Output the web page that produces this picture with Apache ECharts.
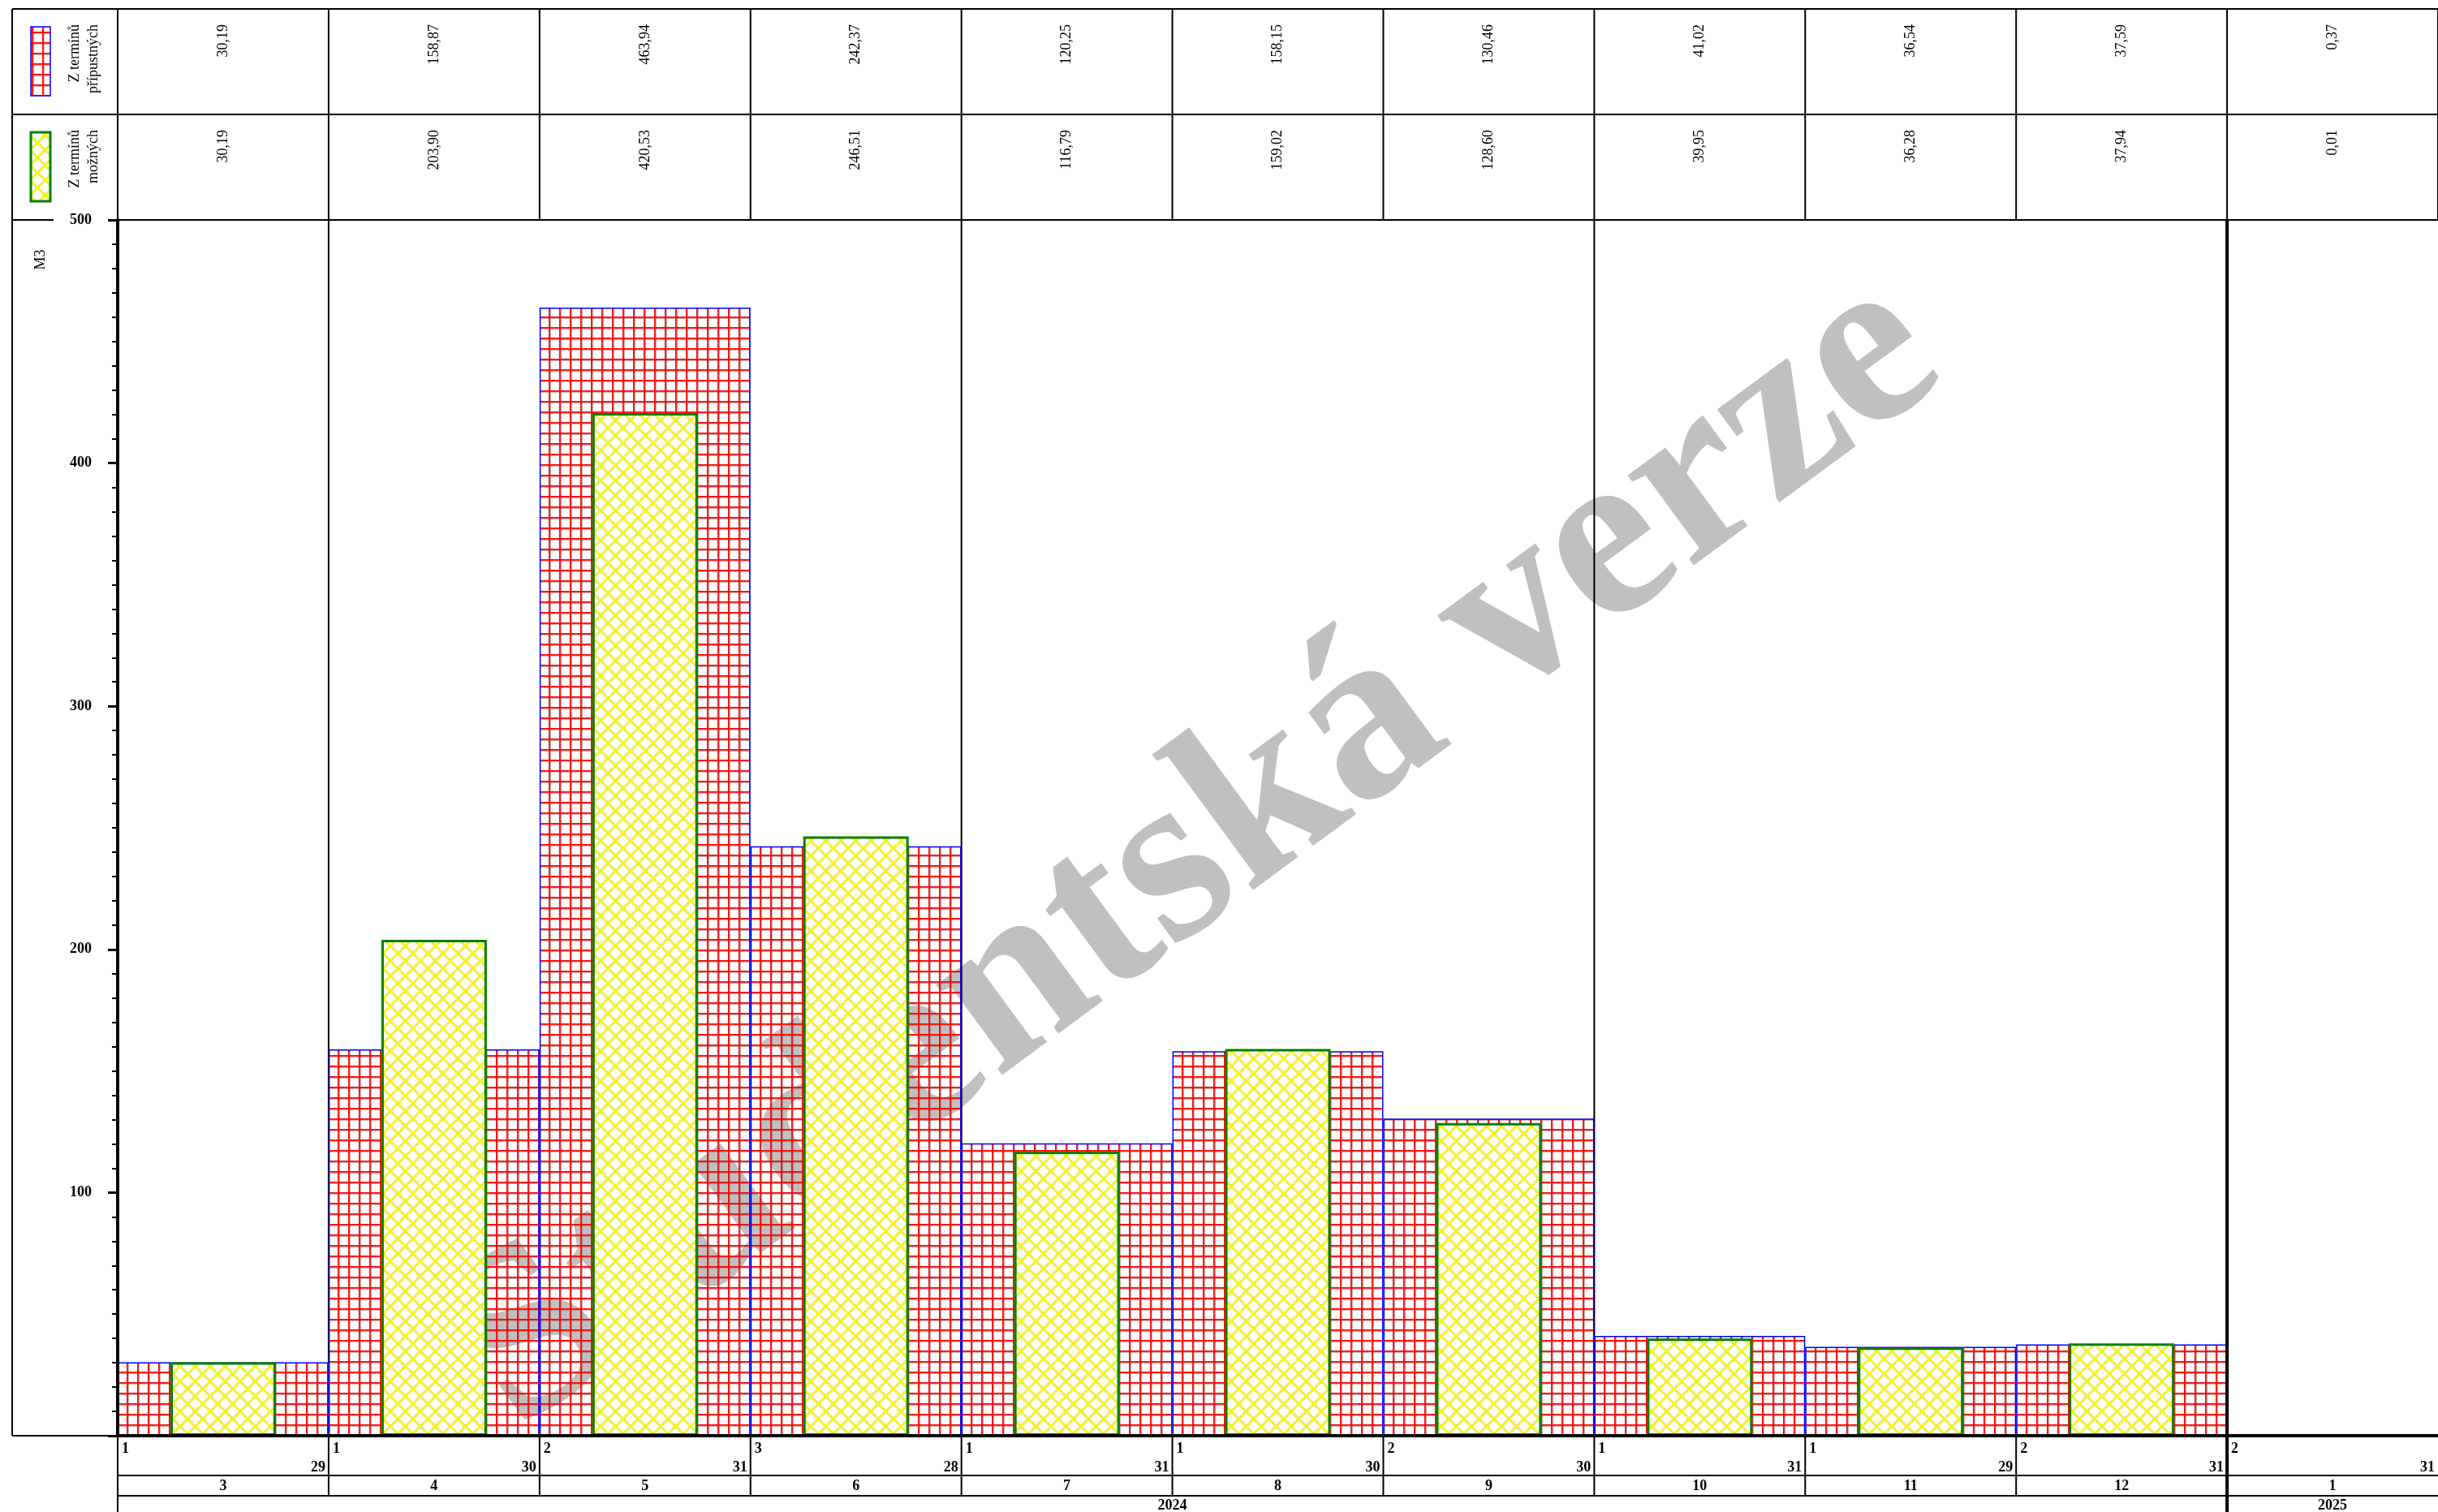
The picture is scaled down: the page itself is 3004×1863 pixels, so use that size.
<!DOCTYPE html>
<html><head><meta charset="utf-8">
<script src="https://cdn.jsdelivr.net/npm/echarts@6/dist/echarts.min.js"></script>
<style>html,body{margin:0;padding:0;background:#fff;}#c{width:3004px;height:1863px;}</style>
</head><body><div id="c"></div>
<script>
// ---- data ----
const months = ['3','4','5','6','7','8','9','10','11','12','1'];
const startDays = ['1','1','2','3','1','1','2','1','1','2','2'];
const endDays = ['29','30','31','28','31','30','30','31','29','31','31'];
const yearLabels = ['2024','2025'];
const yearOfMonth = [0,0,0,0,0,0,0,0,0,0,1];
const pripustnych = [30.19,158.87,463.94,242.37,120.25,158.15,130.46,41.02,36.54,37.59,0.37];
const moznych = [30.19,203.90,420.53,246.51,116.79,159.02,128.60,39.95,36.28,37.94,0.01];
const seriesNames = ['Z termínů přípustných','Z termínů možných'];
const legendLines = [['Z termínů','přípustných'],['Z termínů','možných']];
const yMin = 0, yMax = 500, yInterval = 100;
const yUnit = 'M3';
const watermark = 'Studentská verze';

// ---- patterns ----
function redGrid(){
  const c = document.createElement('canvas'); c.width = 13; c.height = 13;
  const g = c.getContext('2d');
  g.fillStyle = 'rgba(140,90,90,0.45)'; g.fillRect(2,0,1,13); g.fillRect(0,2,13,1);
  g.fillStyle = 'rgba(255,0,0,0.8)'; g.fillRect(1,0,1,13); g.fillRect(0,1,13,1);
  g.fillStyle = '#ff0000'; g.fillRect(0,0,1,13); g.fillRect(0,0,13,1);
  return c;
}
function yellowDiamond(){
  const s = 18.5, n = 37;
  const c = document.createElement('canvas'); c.width = n; c.height = n;
  const g = c.getContext('2d');
  g.fillStyle = '#ffffff'; g.fillRect(0,0,n,n);
  function lines(w, col){
    g.strokeStyle = col; g.lineWidth = w;
    for (let ox=-n; ox<=n; ox+=s){
      g.beginPath(); g.moveTo(ox-1, -1); g.lineTo(ox+n+1, n+1); g.stroke();
      g.beginPath(); g.moveTo(ox+n+1, -1); g.lineTo(ox-1, n+1); g.stroke();
    }
  }
  lines(2.8,'rgba(190,190,0,0.6)');
  lines(1.6,'#ffff00');
  return c;
}
const redPat = {image: redGrid(), repeat: 'repeat'};
const yelPat = {image: yellowDiamond(), repeat: 'repeat'};
const FONT = '"Liberation Serif", "Times New Roman", serif';

const chart = echarts.init(document.getElementById('c'), null, {renderer:'canvas'});
chart.setOption({
  animation: false,
  backgroundColor: '#fff',
  grid: {left: 145, top: 271, right: -4, bottom: 94, containLabel: false},
  xAxis: [
    {type:'category', data: months, boundaryGap: true, z: 5,
     axisLine:{show:true, lineStyle:{color:'#000', width:4}},
     axisTick:{show:false}, axisLabel:{show:false}, splitLine:{show:false}},
    {type:'category', data: months, show:false, boundaryGap: true}
  ],
  yAxis: {type:'value', min: yMin, max: yMax, interval: yInterval, z: 5,
    axisLine:{show:true, lineStyle:{color:'#000', width:4}},
    axisTick:{show:true, length:12, lineStyle:{color:'#000', width:3}},
    minorTick:{show:true, splitNumber:10, length:7, lineStyle:{color:'#000', width:2}},
    axisLabel:{margin:32, color:'#000', fontFamily: FONT, fontWeight:'bold', fontSize:18,
      formatter: v => v === 0 ? '' : String(v)},
    splitLine:{show:false}, minorSplitLine:{show:false}},
  series: [
    {name: seriesNames[0], type:'bar', xAxisIndex:0, data: pripustnych, barWidth:'100%', z:2,
     itemStyle:{color: redPat, borderColor:'#0000ff', borderWidth:1.5}},
    {name: seriesNames[1], type:'bar', xAxisIndex:1, data: moznych, barWidth:'50%', z:3,
     itemStyle:{color: yelPat, borderColor:'#008000', borderWidth:3}}
  ]
});

// ---- table / annotations positioned from the axes ----
const cx = months.map((m,i) => chart.convertToPixel({xAxisIndex:0}, i));
const bw = cx.length > 1 ? cx[1]-cx[0] : 260;
const bounds = cx.map(c => c - bw/2).concat([cx[cx.length-1] + bw/2]);
const yTop = chart.convertToPixel({yAxisIndex:0}, yMax);
const yBot = chart.convertToPixel({yAxisIndex:0}, yMin);
const L = 15, T = 11, rowH = (yTop - T)/2, colL = bounds[0], W = 3004;
const els = [];
function line(x1,y1,x2,y2,w,z){ els.push({type:'line', z: z||10, silent:true, shape:{x1,y1,x2,y2}, style:{stroke:'#000', lineWidth:w}}); }
function text(x,y,t,opt){ els.push(Object.assign({type:'text', z:11, silent:true, x, y, style:Object.assign({text:t, fill:'#000', font:'18px '+FONT, align:'center', verticalAlign:'middle'}, opt.style||{})}, opt.el||{})); }

// watermark (behind bars)
els.push({type:'text', z:0, silent:true, x:1474, y:1052, rotation:0.635,
  style:{text: watermark, fill:'#c0c0c0', font:'bold 300px '+FONT, align:'center', verticalAlign:'middle'}});

// table frame
line(L, T, W, T, 2); line(L, T+rowH, W, T+rowH, 2); line(colL, yTop, W, yTop, 2); line(L, yTop, 66, yTop, 2);
line(L, T, L, yBot, 2); line(L, yBot, colL, yBot, 2);
bounds.forEach(b => line(b, T, b, yTop, 2));
// quarter / year lines through plot
months.forEach((m,i) => {
  if (i === 0) return;
  const mm = +m;
  if (yearOfMonth[i] !== yearOfMonth[i-1]) line(bounds[i], yTop, bounds[i], 1863, 4, 6);
  else if (mm % 3 === 1) line(bounds[i], yTop, bounds[i], yBot, 2, 1);
});
// legend swatches
els.push({type:'rect', z:10, silent:true, shape:{x:38, y:33, width:24, height:85}, style:{fill:{image: redPat.image, repeat:'repeat'}, stroke:'#0000ff', lineWidth:1.5}});
els.push({type:'rect', z:10, silent:true, shape:{x:38, y:33+rowH, width:24, height:85}, style:{fill:{image: yelPat.image, repeat:'repeat'}, stroke:'#008000', lineWidth:3}});
legendLines.forEach((ln, r) => {
  ln.forEach((t, k) => text(92 + k*23, 30 + r*rowH, t, {el:{rotation:Math.PI/2}, style:{align:'right'}}));
});
// values in table
[pripustnych, moznych].forEach((arr, r) => {
  arr.forEach((v, i) => text(cx[i], 30 + r*rowH, v.toFixed(2).replace('.', ','), {el:{rotation:Math.PI/2}, style:{align:'right'}}));
});
// y unit
text(50, 320, yUnit, {el:{rotation:Math.PI/2}});
// bottom axis rows
const rD = yBot + 49, rM = yBot + 74;
line(colL, rD, W, rD, 2); line(colL, rM, W, rM, 2); line(colL, yBot, colL, 1863, 2);
bounds.forEach((b, i) => { if (i>0 && i<bounds.length-1) line(b, yBot, b, rM, 2); });
const B = 'bold 18px ' + FONT;
months.forEach((m, i) => {
  text(bounds[i] + 5, yBot + 16, startDays[i], {style:{align:'left', font:B}});
  text(bounds[i+1] - 4, yBot + 39, endDays[i], {style:{align:'right', font:B}});
  text(cx[i], yBot + 62, m, {style:{font:B}});
});
yearLabels.forEach((y, k) => {
  const idx = yearOfMonth.map((v,i)=>v===k?i:-1).filter(i=>i>=0);
  const x = (bounds[idx[0]] + bounds[idx[idx.length-1]+1]) / 2;
  text(x, yBot + 86, y, {style:{font:B}});
});
chart.setOption({graphic: {elements: els}});
</script></body></html>
